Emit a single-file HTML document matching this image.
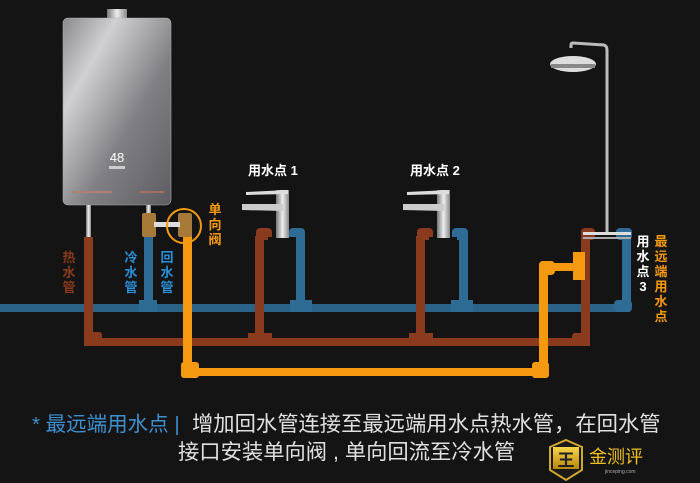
<!DOCTYPE html>
<html><head><meta charset="utf-8"><style>
html,body{margin:0;padding:0;background:#141414;}
svg{display:block}
text{font-family:"Liberation Sans","Noto Sans CJK SC",sans-serif;}
</style></head><body>
<svg width="700" height="483" viewBox="0 0 700 483" xmlns="http://www.w3.org/2000/svg">
<defs>
<linearGradient id="hg" x1="0" y1="0" x2="1" y2="1">
<stop offset="0" stop-color="#8a8a8c"/><stop offset="0.25" stop-color="#d0d0d2"/><stop offset="0.6" stop-color="#808084"/><stop offset="1" stop-color="#5e5e62"/>
</linearGradient>
<linearGradient id="sil" x1="0" y1="0" x2="1" y2="0">
<stop offset="0" stop-color="#777"/><stop offset="0.5" stop-color="#eee"/><stop offset="1" stop-color="#888"/>
</linearGradient>
<linearGradient id="gold" x1="0" y1="0" x2="0" y2="1">
<stop offset="0" stop-color="#f6d54a"/><stop offset="1" stop-color="#b8860b"/>
</linearGradient>
</defs>
<rect width="700" height="483" fill="#141414"/>

<rect x="107" y="9" width="20" height="10" fill="url(#sil)"/>
<rect x="63" y="18" width="108" height="187" rx="5" fill="url(#hg)" stroke="#aaa" stroke-width="0.6"/>
<text x="117" y="162" font-size="13" fill="#fff" text-anchor="middle" font-family="Liberation Mono">48</text>
<rect x="109" y="166" width="16" height="3" fill="#ccc"/>
<rect x="72" y="191" width="40" height="2" fill="#b08070"/>
<rect x="140" y="191" width="24" height="2" fill="#a07060"/>
<rect x="86" y="205" width="5" height="33" fill="url(#sil)"/>
<rect x="146" y="205" width="5" height="10" fill="url(#sil)"/>

<g fill="#2e6b95">
<rect x="0" y="304" width="630" height="8" opacity="0.9"/>
<rect x="144" y="235" width="9" height="72"/>
<rect x="139" y="300" width="18" height="12"/>
<rect x="296" y="236" width="9" height="72"/>
<rect x="289" y="228" width="16" height="12" rx="4"/>
<rect x="290" y="300" width="22" height="12"/>
<rect x="459" y="236" width="9" height="72"/>
<rect x="452" y="228" width="16" height="12" rx="4"/>
<rect x="451" y="300" width="22" height="12"/>
<rect x="622" y="236" width="9" height="72"/>
<rect x="616" y="228" width="16" height="12" rx="4"/>
<rect x="614" y="300" width="18" height="12" rx="4"/>
</g>

<g fill="#8a3a1d">
<rect x="84" y="237" width="9" height="108"/>
<rect x="84" y="332" width="18" height="14" rx="3"/>
<rect x="84" y="338" width="502" height="8"/>
<rect x="255" y="236" width="9" height="108"/>
<rect x="256" y="228" width="16" height="12" rx="4"/>
<rect x="248" y="333" width="24" height="13"/>
<rect x="416" y="236" width="9" height="108"/>
<rect x="417" y="228" width="16" height="12" rx="4"/>
<rect x="409" y="333" width="24" height="13"/>
<rect x="581" y="236" width="9" height="110"/>
<rect x="581" y="228" width="14" height="12" rx="4"/>
<rect x="572" y="333" width="18" height="13" rx="3"/>
</g>

<g fill="#f59a10">
<rect x="183" y="236" width="9" height="140"/>
<rect x="181" y="362" width="18" height="16" rx="3"/>
<rect x="183" y="368" width="364" height="8"/>
<rect x="539" y="266" width="9" height="110"/>
<rect x="532" y="362" width="17" height="16" rx="3"/>
<rect x="539" y="261" width="16" height="14" rx="4"/>
<rect x="550" y="263" width="25" height="8"/>
<rect x="573" y="252" width="12" height="28"/>
</g>

<g fill="#a87a3a">
<rect x="142" y="213" width="14" height="24" rx="2"/>
<rect x="178" y="213" width="14" height="24" rx="2"/>
<rect x="154" y="222" width="26" height="5" fill="#ddd"/>
</g>
<circle cx="184" cy="226" r="17" fill="none" stroke="#f59a10" stroke-width="2"/>

<g>
<rect x="268" y="237" width="28" height="30" fill="#141414"/>
<rect x="276" y="190" width="13" height="48" fill="url(#sil)"/>
<path d="M246 192 L288 190 L288 194 L246 195 Z" fill="#ddd"/>
<path d="M242 204 L283 204 L283 211 L242 210 Z" fill="#ccc"/>
</g>
<g>
<rect x="429" y="237" width="28" height="30" fill="#141414"/>
<rect x="437" y="190" width="13" height="48" fill="url(#sil)"/>
<path d="M407 192 L449 190 L449 194 L407 195 Z" fill="#ddd"/>
<path d="M403 204 L444 204 L444 211 L403 210 Z" fill="#ccc"/>
</g>
<g>
<path d="M571 48 L571 45 Q571 43 573 43 L604 45 Q607 46 607 50 L607 235" fill="none" stroke="#bbb" stroke-width="3"/>
<ellipse cx="573" cy="64" rx="23" ry="8" fill="#ddd"/>
<rect x="551" y="64" width="44" height="4" fill="#888"/>
<rect x="583" y="232" width="48" height="3" fill="#ddd"/>
<rect x="583" y="237" width="48" height="2" fill="#aaa"/>
</g>

<g font-size="13" font-weight="bold" text-anchor="middle">
<text x="69" y="262" fill="#8a3a1d">热</text><text x="69" y="277" fill="#8a3a1d">水</text><text x="69" y="292" fill="#8a3a1d">管</text>
<text x="131" y="262" fill="#2a8fd6">冷</text><text x="131" y="277" fill="#2a8fd6">水</text><text x="131" y="292" fill="#2a8fd6">管</text>
<text x="167" y="262" fill="#2a8fd6">回</text><text x="167" y="277" fill="#2a8fd6">水</text><text x="167" y="292" fill="#2a8fd6">管</text>
<text x="215" y="214" fill="#f59a10">单</text><text x="215" y="229" fill="#f59a10">向</text><text x="215" y="244" fill="#f59a10">阀</text>
<text x="643" y="246" fill="#fff">用</text><text x="643" y="261" fill="#fff">水</text><text x="643" y="276" fill="#fff">点</text><text x="643" y="291" fill="#fff">3</text>
<text x="661" y="246" fill="#f59a10">最</text><text x="661" y="261" fill="#f59a10">远</text><text x="661" y="276" fill="#f59a10">端</text><text x="661" y="291" fill="#f59a10">用</text><text x="661" y="306" fill="#f59a10">水</text><text x="661" y="321" fill="#f59a10">点</text>
</g>
<text x="248" y="175" font-size="13" font-weight="bold" fill="#fff">用水点 1</text>
<text x="410" y="175" font-size="13" font-weight="bold" fill="#fff">用水点 2</text>

<text x="32" y="431" font-size="20.5" fill="#3f8fcf">* 最远端用水点 |</text>
<text x="192" y="431" font-size="21.3" fill="#e0e0e0">增加回水管连接至最远端用水点热水管，在回水管</text>
<text x="178" y="459" font-size="21.3" fill="#e0e0e0">接口安装单向阀 , 单向回流至冷水管</text>

<g>
<path d="M566 440 L582 447 L582 470 L566 480 L550 470 L550 447 Z" fill="#1a1a1a" stroke="#d4a82a" stroke-width="2"/>
<rect x="553" y="447" width="26" height="22" fill="url(#gold)"/>
<text x="566" y="466" font-size="17" font-weight="bold" fill="#222" text-anchor="middle">王</text>
<text x="589" y="463" font-size="18" fill="#f0c020">金测评</text>
<text x="605" y="473" font-size="5" fill="#aaa">jinceping.com</text>
</g>
</svg>
</body></html>
